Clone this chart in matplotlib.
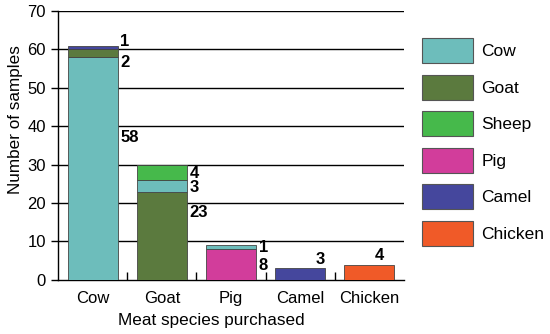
import numpy as np
import matplotlib
matplotlib.use("Agg")
import matplotlib.pyplot as plt
from matplotlib.patches import Patch

plt.rcParams['font.family'] = ['Liberation Sans', 'DejaVu Sans']

categories = ["Cow", "Goat", "Pig", "Camel", "Chicken"]
species = ["Cow", "Goat", "Sheep", "Pig", "Camel", "Chicken"]
colors = {"Cow": "#6dbdbb", "Goat": "#5b7a3e", "Sheep": "#46b94b",
          "Pig": "#d23d9b", "Camel": "#45479d", "Chicken": "#f05a28"}

# stacked segments per bar, bottom to top
stack_species = [["Cow", "Goat", "Camel"], ["Goat", "Cow", "Sheep"], ["Pig", "Cow"], ["Camel"], ["Chicken"]]
stack_values = [[58, 2, 1], [23, 3, 4], [8, 1], [3], [4]]

# where the value labels sit (data units), same shape as stack_values
label_x = [[0.4, 0.4, 0.4], [1.4, 1.4, 1.4], [2.4, 2.4, 2.4], [3.22], [4.08]]
label_y = [[37, 56.5, 62], [17.5, 24, 27.8], [3.8, 8.4], [5.2], [6.3]]

fig = plt.figure(figsize=(5.5, 3.34), dpi=100)
ax = fig.add_axes([0.106, 0.162, 0.628, 0.805])

x = np.arange(len(categories))
width = 0.72
for i in range(len(categories)):
    bottom = 0
    for sp, v in zip(stack_species[i], stack_values[i]):
        ax.bar(x[i], v, width, bottom=bottom, color=colors[sp],
               edgecolor="#444444", linewidth=0.6, zorder=3)
        bottom += v
    for v, lx, ly in zip(stack_values[i], label_x[i], label_y[i]):
        ax.text(lx, ly, str(v), fontsize=12, fontweight="bold",
                ha="left", va="center", zorder=4)

ax.set_xlim(-0.5, 4.5)
ax.set_ylim(0, 70)
ax.set_yticks(range(0, 71, 10))
for yv in range(10, 71, 10):
    ax.axhline(yv, color="black", linewidth=1, zorder=1)

ax.set_xticks(x)
ax.set_xticklabels(categories, fontsize=12)
ax.tick_params(axis="x", length=0, pad=8)
ax.set_xticks(np.arange(0.5, 4.5, 1), minor=True)
ax.tick_params(axis="x", which="minor", direction="in", length=6, width=1)
ax.tick_params(axis="y", labelsize=12, length=5, width=1, pad=4)

for s in ["top", "right"]:
    ax.spines[s].set_visible(False)
ax.spines["left"].set_linewidth(1)
ax.spines["bottom"].set_linewidth(1)

ax.set_xlabel("Meat species purchased", fontsize=12.3)
ax.set_ylabel("Number of samples", fontsize=12.3)
ax.xaxis.set_label_coords(0.443, -0.122)
ax.yaxis.set_label_coords(-0.102, 0.595)

handles = [Patch(facecolor=colors[s], edgecolor="#555555", linewidth=0.8) for s in species]
fig.legend(handles, species, loc="upper left", bbox_to_anchor=(0.745, 0.922),
           frameon=False, fontsize=12.5, handlelength=2.93, handleheight=1.83,
           labelspacing=0.67, handletextpad=0.5, borderpad=0.2)

fig.savefig("out.png", dpi=100)
